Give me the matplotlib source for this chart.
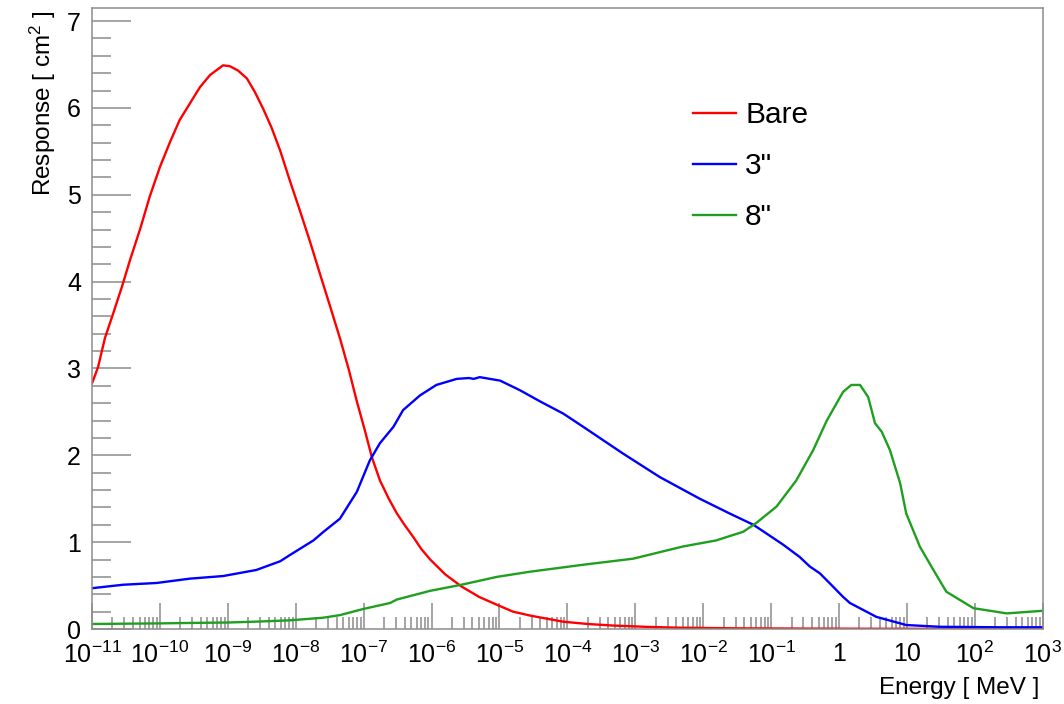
"""Detector response curves (Bare, 3", 8") vs neutron energy, ROOT-like style."""

import matplotlib
matplotlib.use("Agg")
import matplotlib.pyplot as plt
import numpy as np
from matplotlib.ticker import (FixedLocator, FuncFormatter, MultipleLocator,
                               NullFormatter)

plt.rcParams["font.family"] = ["Liberation Sans", "DejaVu Sans"]
plt.rcParams["mathtext.fontset"] = "custom"
plt.rcParams["mathtext.rm"] = "Liberation Sans"
plt.rcParams["mathtext.it"] = "Liberation Sans"
plt.rcParams["mathtext.default"] = "regular"

# log10(E / MeV) and response [cm^2]
bare_loge = [-11.0, -10.98, -10.91, -10.81, -10.69, -10.56, -10.44, -10.29,
             -10.15, -10.0, -9.85, -9.71, -9.56, -9.41, -9.26, -9.14, -9.07,
             -8.97, -8.85, -8.72, -8.60, -8.48, -8.36, -8.23, -8.09, -7.94,
             -7.79, -7.64, -7.50, -7.35, -7.22, -7.10, -6.98, -6.88, -6.76,
             -6.63, -6.51, -6.39, -6.27, -6.15, -6.02, -5.80, -5.56, -5.30,
             -5.04, -4.80, -4.55, -4.31, -4.06, -3.70, -3.33, -2.80, -2.34,
             -1.5, -0.5, 0.5, 1.5, 3.0]
bare_resp = [2.83, 2.87, 3.02, 3.35, 3.63, 3.94, 4.25, 4.61,
             4.98, 5.32, 5.61, 5.86, 6.05, 6.24, 6.38, 6.45, 6.49,
             6.48, 6.43, 6.34, 6.18, 5.99, 5.78, 5.51, 5.17, 4.82,
             4.46, 4.08, 3.73, 3.35, 2.99, 2.62, 2.28, 1.98, 1.71,
             1.50, 1.33, 1.19, 1.06, 0.92, 0.80, 0.63, 0.49, 0.37,
             0.28, 0.20, 0.155, 0.12, 0.084, 0.058, 0.04, 0.024, 0.015,
             0.008, 0.005, 0.003, 0.002, 0.001]

in3_loge = [-11.0, -10.54, -10.05, -9.56, -9.07, -8.58, -8.23, -8.09, -7.74,
            -7.59, -7.35, -7.10, -6.91, -6.76, -6.56, -6.42, -6.17, -5.93,
            -5.63, -5.45, -5.38, -5.29, -4.99, -4.70, -4.40, -4.06, -3.77,
            -3.18, -2.64, -2.05, -1.61, -1.26, -0.82, -0.58, -0.43, -0.28,
            -0.09, 0.06, 0.16, 0.55, 0.99, 1.48, 2.37, 3.0]
in3_resp = [0.47, 0.51, 0.53, 0.58, 0.61, 0.68, 0.78, 0.85, 1.02,
            1.12, 1.27, 1.58, 1.94, 2.14, 2.33, 2.52, 2.69, 2.81,
            2.88, 2.89, 2.88, 2.90, 2.86, 2.75, 2.62, 2.48, 2.33,
            2.02, 1.75, 1.50, 1.33, 1.20, 0.97, 0.83, 0.72, 0.64,
            0.49, 0.37, 0.30, 0.14, 0.046, 0.026, 0.02, 0.02]

in8_loge = [-11.0, -10.0, -9.56, -9.0, -8.58, -8.09, -7.6, -7.35, -7.01,
            -6.61, -6.51, -6.02, -5.56, -5.04, -4.55, -4.06, -3.77, -3.03,
            -2.30, -1.81, -1.41, -1.22, -0.92, -0.63, -0.38, -0.18, 0.06,
            0.18, 0.31, 0.43, 0.53, 0.63, 0.75, 0.90, 0.99, 1.19, 1.39,
            1.58, 1.98, 2.47, 3.0]
in8_resp = [0.058, 0.065, 0.07, 0.075, 0.085, 0.10, 0.13, 0.16, 0.23,
            0.30, 0.34, 0.44, 0.51, 0.60, 0.66, 0.71, 0.74, 0.81,
            0.95, 1.02, 1.12, 1.22, 1.41, 1.71, 2.06, 2.40, 2.73,
            2.81, 2.81, 2.67, 2.37, 2.27, 2.06, 1.68, 1.33, 0.95, 0.68,
            0.43, 0.24, 0.18, 0.21]

series = [
    ("Bare", bare_loge, bare_resp, "#ff0000"),
    ('3"', in3_loge, in3_resp, "#0000ff"),
    ('8"', in8_loge, in8_resp, "#1f9f1f"),
]

decades = np.arange(-11, 4)

FRAME = "#8c8c8c"


def _energy_label(val, pos):
    exp = int(round(np.log10(val)))
    if exp == 0:
        return "1"
    if exp == 1:
        return "10"
    return r"$10^{%d}$" % exp


fig = plt.figure(figsize=(10.64, 7.04), dpi=100)
ax = fig.add_axes([0.0865, 0.1065, 0.8935, 0.8821])

for name, loge, resp, color in series:
    ax.plot(10.0 ** np.asarray(loge), resp, color=color, linewidth=1.7, label=name)

ax.set_xscale("log")
ax.set_xlim(1e-11, 1e3)
ax.set_ylim(0, 7.15)

# decade ticks inside the range, and 2..9 minor ticks between them
major_pos = 10.0 ** decades
minor_pos = np.outer(10.0 ** decades[:-1], np.arange(2, 10)).ravel()
ax.xaxis.set_major_locator(FixedLocator(major_pos))
ax.xaxis.set_minor_locator(FixedLocator(minor_pos))
ax.xaxis.set_major_formatter(FuncFormatter(_energy_label))
ax.xaxis.set_minor_formatter(NullFormatter())
ax.yaxis.set_major_locator(MultipleLocator(1))
ax.yaxis.set_minor_locator(MultipleLocator(0.2))

for side in ax.spines.values():
    side.set_color(FRAME)
    side.set_linewidth(1.1)

ax.tick_params(axis="both", which="both", direction="in", color=FRAME, width=1.1,
               top=False, right=False, labelsize=18)
ax.tick_params(axis="x", which="major", length=19, pad=9)
ax.tick_params(axis="x", which="minor", length=9)
ax.tick_params(axis="y", which="major", length=28, pad=8)
ax.tick_params(axis="y", which="minor", length=14)

ax.set_xlabel("Energy [ MeV ]", fontsize=17.5, loc="right")
ax.xaxis.set_label_coords(0.997, -0.078)
ax.set_ylabel(r"Response [ cm$^2$ ]", fontsize=17.5, loc="top")
ax.yaxis.set_label_coords(-0.036, 0.997)

ax.legend(loc="upper left", bbox_to_anchor=(0.632, 0.85), frameon=False,
          fontsize=21.5, handlelength=1.45, handletextpad=0.3, labelspacing=0.77,
          borderpad=0.0, borderaxespad=0.0)

fig.savefig("out.png", dpi=100)
plt.close(fig)
